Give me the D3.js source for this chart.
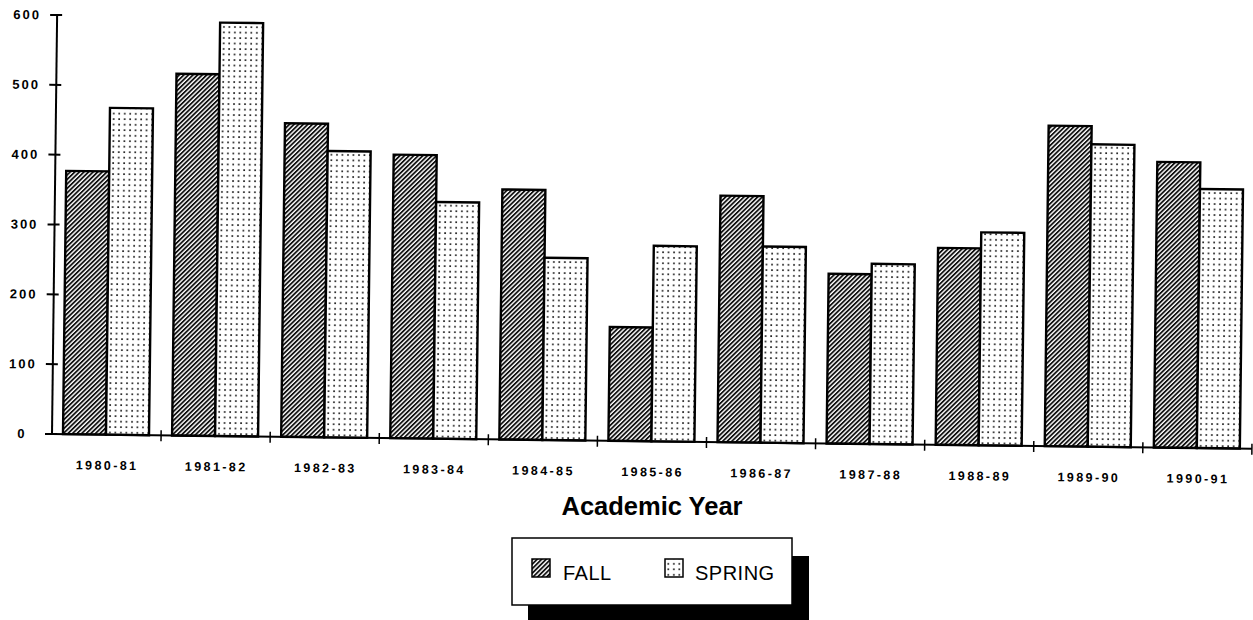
<!DOCTYPE html>
<html>
<head>
<meta charset="utf-8">
<script src="https://cdn.jsdelivr.net/npm/d3@7"></script>
<style>
  html, body { margin: 0; padding: 0; background: #fff; }
  svg { display: block; }
</style>
</head>
<body>
<svg id="chart" width="1253" height="620"></svg>
<script>
const categories = ["1980-81","1981-82","1982-83","1983-84","1984-85","1985-86","1986-87","1987-88","1988-89","1989-90","1990-91"];
const fallValues   = [377, 518, 449, 406, 358, 163, 353, 243, 282, 459, 409];
const springValues = [468, 592, 410, 339, 261, 280, 281, 258, 305, 433, 371];
const seriesNames = ["FALL", "SPRING"];
const yTicks = [0, 100, 200, 300, 400, 500, 600];

const svg = d3.select("#chart");
const defs = svg.append("defs");

// hatch pattern (fall)
const hatch = defs.append("pattern")
  .attr("id", "hatch").attr("patternUnits", "userSpaceOnUse")
  .attr("width", 3.2).attr("height", 3.2)
  .attr("patternTransform", "rotate(45)");
hatch.append("rect").attr("width", 3.2).attr("height", 3.2).attr("fill", "#fff");
hatch.append("rect").attr("x", 0).attr("y", 0).attr("width", 1.8).attr("height", 3.2).attr("fill", "#111");

// dot pattern (spring)
const dots = defs.append("pattern")
  .attr("id", "dots").attr("patternUnits", "userSpaceOnUse")
  .attr("width", 5.5).attr("height", 5.5);
dots.append("rect").attr("width", 5.5).attr("height", 5.5).attr("fill", "#fff");
dots.append("rect").attr("x", 2).attr("y", 2).attr("width", 1.7).attr("height", 1.7).attr("fill", "#222");

const fills = ["url(#hatch)", "url(#dots)"];

const x0 = 52, yBase = 434;
const g = svg.append("g").attr("transform", `rotate(0.7, ${x0}, ${yBase})`);

const x = d3.scaleBand().domain(categories).range([x0, 1252]).paddingInner(0).paddingOuter(0);
const x1 = d3.scaleBand().domain(seriesNames).range([11, 97]);
const y = d3.scaleLinear().domain([0, 600]).range([yBase, 15]);

const data = categories.map((c, i) => ({cat: c, vals: [fallValues[i], springValues[i]]}));

// bars
const groups = g.selectAll("g.cat").data(data).enter().append("g")
  .attr("class", "cat")
  .attr("transform", d => `translate(${x(d.cat)},0)`);
groups.selectAll("rect").data(d => d.vals.map((v, j) => ({v, j}))).enter().append("rect")
  .attr("x", d => x1(seriesNames[d.j]))
  .attr("width", x1.bandwidth())
  .attr("y", d => y(d.v))
  .attr("height", d => y(0) - y(d.v))
  .attr("fill", d => fills[d.j])
  .attr("stroke", "#000")
  .attr("stroke-width", 2.4);

// y axis
const yAxis = g.append("g");
yAxis.append("line").attr("x1", x0).attr("x2", x0).attr("y1", y(600)).attr("y2", y(0))
  .attr("stroke", "#000").attr("stroke-width", 2);
yAxis.selectAll("line.tick").data(yTicks).enter().append("line")
  .attr("x1", x0 - 7).attr("x2", x0 + 5)
  .attr("y1", d => y(d)).attr("y2", d => y(d))
  .attr("stroke", "#000").attr("stroke-width", 2);
yAxis.selectAll("text").data(yTicks).enter().append("text")
  .attr("x", x0 - 30).attr("y", d => y(d) + 4.5)
  .attr("text-anchor", "middle")
  .attr("font-family", "Liberation Sans, Arial, sans-serif")
  .attr("font-weight", "bold").attr("font-size", 13)
  .attr("letter-spacing", 2)
  .text(d => d);

// x axis
const xAxis = g.append("g");
xAxis.append("line").attr("x1", x0).attr("x2", 1252).attr("y1", y(0)).attr("y2", y(0))
  .attr("stroke", "#000").attr("stroke-width", 2);
const tickPos = categories.map(c => x(c) + x.bandwidth());
xAxis.selectAll("line.tick").data(tickPos).enter().append("line")
  .attr("x1", d => d).attr("x2", d => d)
  .attr("y1", y(0) - 5).attr("y2", y(0) + 6)
  .attr("stroke", "#000").attr("stroke-width", 1.5);
xAxis.selectAll("text").data(categories).enter().append("text")
  .attr("x", d => x(d) + x.bandwidth() / 2 + 1)
  .attr("y", y(0) + 35)
  .attr("text-anchor", "middle")
  .attr("font-family", "Liberation Sans, Arial, sans-serif")
  .attr("font-weight", "bold").attr("font-size", 12.5)
  .attr("letter-spacing", 2.4)
  .text(d => d);

// axis title
svg.append("text")
  .attr("x", 652).attr("y", 515)
  .attr("text-anchor", "middle")
  .attr("font-family", "Liberation Sans, Arial, sans-serif")
  .attr("font-weight", "bold").attr("font-size", 25.5)
  .text("Academic Year");

// legend
const lg = svg.append("g");
lg.append("rect").attr("x", 528).attr("y", 556).attr("width", 281).attr("height", 66).attr("fill", "#000");
lg.append("rect").attr("x", 512).attr("y", 538).attr("width", 280).attr("height", 67)
  .attr("fill", "#fff").attr("stroke", "#000").attr("stroke-width", 1.5);
const legX = [532, 665];
const legTX = [563, 695];
seriesNames.forEach((s, i) => {
  lg.append("rect").attr("x", legX[i]).attr("y", 559).attr("width", 18).attr("height", 18)
    .attr("fill", fills[i]).attr("stroke", "#000").attr("stroke-width", 1.5);
  lg.append("text").attr("x", legTX[i]).attr("y", 580)
    .attr("font-family", "Liberation Sans, Arial, sans-serif")
    .attr("font-size", 20)
    .attr("letter-spacing", 0.5)
    .text(s);
});
</script>
</body>
</html>
